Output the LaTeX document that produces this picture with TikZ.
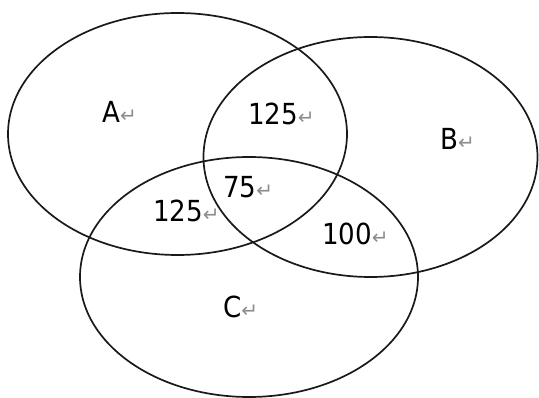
\documentclass[tikz,border=0pt]{standalone}
\usepackage{fontspec}
\setmainfont{DejaVu Sans Condensed}
\newfontfamily\arrowfont{DejaVu Sans}
\newcommand{\retmark}{{\color{black!45}\arrowfont\fontsize{20}{20}\selectfont\raisebox{0.5pt}{↵}}}
\begin{document}
\begin{tikzpicture}[x=1pt,y=-1pt,
  venn/.style={draw=black!90, line width=1.7pt},
  lbl/.style={anchor=base west, inner sep=0pt, font=\fontsize{29}{29}\selectfont}]
\useasboundingbox (0,0) rectangle (539,398);
\draw[venn] (177.5,134) ellipse [x radius=169.5, y radius=121];
\draw[venn] (370.5,157) ellipse [x radius=167, y radius=120];
\draw[venn] (249,277) ellipse [x radius=169, y radius=120];
\node[lbl] (la) at (102,123) {A\retmark};
\node[lbl] (lab) at (248,125) {125\retmark};
\node[lbl] (lb) at (440,150) {B\retmark};
\node[lbl] (labc) at (223,198) {75\retmark};
\node[lbl] (lac) at (153,222) {125\retmark};
\node[lbl] (lbc) at (322,245) {100\retmark};
\node[lbl] (lc) at (223,318) {C\retmark};
\end{tikzpicture}
\end{document}
